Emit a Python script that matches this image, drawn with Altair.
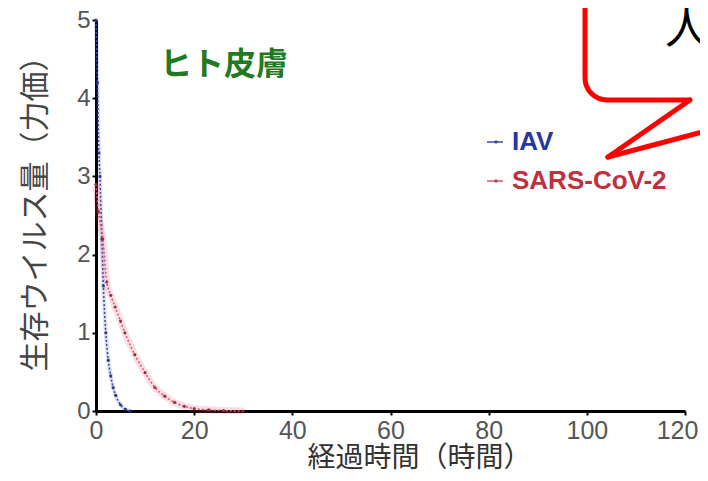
import altair as alt
import pandas as pd

# ---- data ----
iav_t = [0, 0.3, 0.6, 0.8, 1.2, 1.5, 2.0, 2.5, 3.0, 3.5, 4.0, 5.0, 6.0, 7.0]
iav_v = [5.0, 4.2, 3.3, 3.0, 2.2, 1.6, 1.0, 0.65, 0.45, 0.3, 0.2, 0.08, 0.02, 0.0]
sars_t = [0, 0.5, 1.4, 2.2, 3.0, 3.9, 5.0, 5.9, 7.9, 10, 12, 14, 16, 18, 20, 23, 26, 30]
sars_v = [2.9, 2.55, 2.2, 1.65, 1.48, 1.33, 1.15, 1.0, 0.72, 0.49, 0.3, 0.19, 0.11,
          0.06, 0.03, 0.015, 0.005, 0.0]
x_ticks = [0, 20, 40, 60, 80, 100, 120]
y_ticks = [0, 1, 2, 3, 4, 5]
series_names = ["IAV", "SARS-CoV-2"]
series_colors = ["#3a48b8", "#e0506a"]
marker_colors = ["#28307a", "#8a2a3a"]
label_colors = ["#2a35a5", "#c0303f"]

df = pd.DataFrame({
    "t": iav_t + sars_t,
    "v": iav_v + sars_v,
    "s": ["IAV"] * len(iav_t) + ["SARS-CoV-2"] * len(sars_t),
})

X = alt.X("t:Q", scale=alt.Scale(domain=[0, 120], nice=False),
          axis=alt.Axis(values=x_ticks, title="経過時間（時間）", labelPadding=3,
                        labelFontSize=25, titleColor="#333333", titleFontSize=28,
                        labelFlush=False,
                        labelOffset=alt.condition("datum.value == 120", alt.value(-8), alt.value(0)),
                        titleX=323, titleY=47, titleBaseline="middle", titleAlign="center"))
Y = alt.Y("v:Q", scale=alt.Scale(domain=[0, 5], nice=False),
          axis=alt.Axis(values=y_ticks, title="生存ウイルス量（力価）", labelPadding=2,
                        labelFontSize=24, titleColor="#454545", titleFontSize=30,
                        labelFlush=False,
                        titleX=-61, titleY=186, titleBaseline="middle", titleAlign="center"))

base = alt.Chart(df)
layers = []
for name, col, mcol, halo in zip(series_names, series_colors, marker_colors, [4, 7]):
    sub = base.transform_filter(alt.datum.s == name)
    layers.append(sub.mark_line(color=col, strokeWidth=halo, opacity=0.18,
                                interpolate="monotone").encode(x=X, y=Y))
    layers.append(sub.mark_line(color=col, strokeWidth=1.5, strokeDash=[2, 2],
                                interpolate="monotone").encode(x=X, y=Y))
    layers.append(sub.mark_point(filled=True, color=mcol, size=10, opacity=0.9).encode(x=X, y=Y))

one = alt.Chart(pd.DataFrame({"a": [0]}))

# panel title
layers.append(one.mark_text(text="ヒト皮膚", font="Noto Sans CJK JP", fontSize=32,
                            fontWeight="bold", color="#1f7a22", align="left",
                            baseline="middle").encode(x=alt.value(64), y=alt.value(45)))

# manual legend
for i, (name, col, mcol, lcol) in enumerate(zip(series_names, series_colors,
                                                 marker_colors, label_colors)):
    yy = 122 + 39 * i
    layers.append(one.mark_rule(color=col, strokeWidth=1.5).encode(
        x=alt.value(391), x2=alt.value(407), y=alt.value(yy)))
    layers.append(one.mark_point(filled=True, color=mcol, size=12).encode(
        x=alt.value(400), y=alt.value(yy)))
    layers.append(one.mark_text(text=name, font="Liberation Sans", fontSize=26,
                                fontWeight="bold", color=lcol, align="left",
                                baseline="middle").encode(x=alt.value(416), y=alt.value(yy)))

# speech bubble decoration
layers.append(one.mark_rect(fill="white", stroke="#ff0000", strokeWidth=5,
                            cornerRadius=22).encode(
    x=alt.value(489), x2=alt.value(680), y=alt.value(-80), y2=alt.value(80)))
layers.append(one.mark_rule(color="white", strokeWidth=8).encode(
    x=alt.value(595), x2=alt.value(680), y=alt.value(80)))
layers.append(one.mark_rule(color="#ff0000", strokeWidth=5, strokeCap="round").encode(
    x=alt.value(594), x2=alt.value(512), y=alt.value(80), y2=alt.value(137)))
layers.append(one.mark_rule(color="#ff0000", strokeWidth=5, strokeCap="round").encode(
    x=alt.value(512), x2=alt.value(640), y=alt.value(137), y2=alt.value(103)))
layers.append(one.mark_text(text="人", font="Noto Sans CJK JP", fontSize=44,
                            color="black", align="left", baseline="middle").encode(
    x=alt.value(569), y=alt.value(11)))

chart = alt.layer(*layers).properties(
    width=589, height=391,
    padding={"left": 88, "top": 12, "right": 15, "bottom": 62},
    autosize=alt.AutoSizeParams(type="none"),
    background="white",
).configure_view(stroke=None).configure_axis(
    grid=False, domainColor="black", domainWidth=3, tickColor="black", tickWidth=2,
    tickSize=4, labelColor="#555555", labelFont="Liberation Sans",
    titleFont="Noto Sans CJK JP", titleFontWeight="normal",
)

chart.save("out.html", embed_options={"renderer": "svg", "actions": False})
